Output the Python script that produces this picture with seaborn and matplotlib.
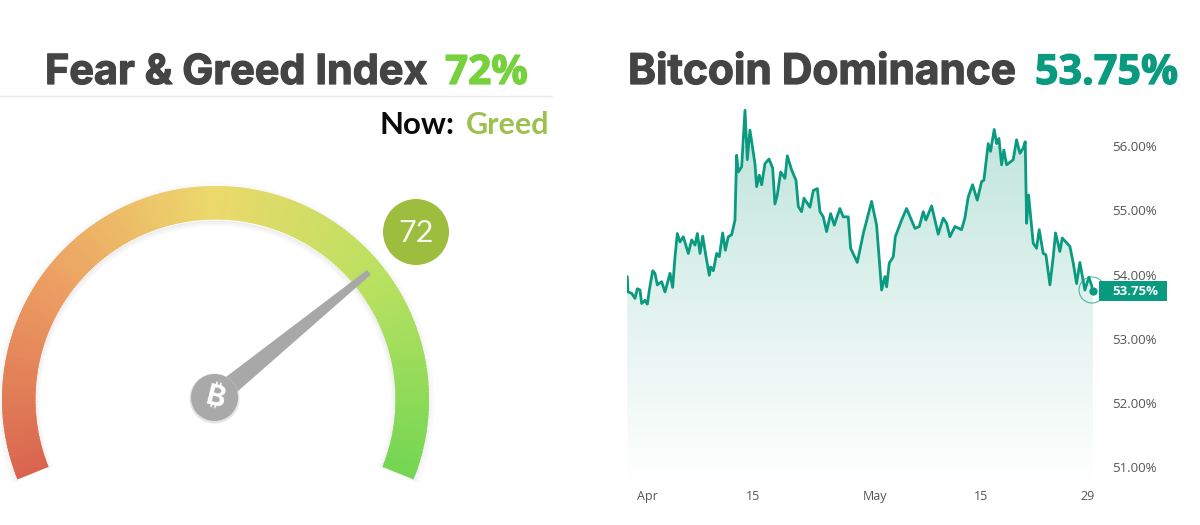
import numpy as np
import matplotlib
matplotlib.use('Agg')
import matplotlib.pyplot as plt
import matplotlib.patheffects as pe
from matplotlib.patches import Wedge, Circle, Polygon, Rectangle
from matplotlib.colors import LinearSegmentedColormap
import seaborn as sns

# days counted from Apr 1
days = [-2.59, -2.50, -2.02, -1.58, -1.27, -0.92, -0.70, -0.26, 0.05, 0.31, 0.75, 1.05, 1.36, 1.93, 2.37,
        3.03, 3.38, 3.69, 3.99, 4.34, 4.78, 5.44, 5.88, 6.32, 6.63, 6.98, 7.33, 7.77, 8.20, 8.38, 8.73,
        9.17, 9.52, 9.96, 10.31, 10.70, 11.14, 11.58, 11.80, 12.02, 12.46, 12.90, 13.20, 13.55, 14.21,
        14.43, 14.78, 15.09, 15.53, 16.06, 16.54, 16.84, 17.15, 17.59, 18.16, 18.47, 19.04, 19.61, 19.92,
        20.35, 20.66, 21.45, 21.89, 22.42, 22.77, 23.20, 23.64, 24.17, 24.65, 25.39, 25.83, 26.49, 26.80,
        27.68, 28.47, 29.56, 30.22, 30.88, 31.32, 31.54, 31.89, 32.42, 32.68, 33.51, 34.17, 35.27, 35.84,
        36.36, 36.71, 37.46, 38.33, 38.99, 39.43, 39.87, 40.53, 41.40, 41.84, 42.28, 42.85, 43.47, 44.04,
        44.34, 44.91, 45.22, 45.70, 46.01, 46.32, 46.67, 46.97, 47.33, 48.20, 48.64, 49.08, 49.52, 49.78,
        49.96, 50.22, 50.83, 51.27, 51.62, 52.15, 52.50, 53.03, 53.47, 53.77, 54.34, 54.65, 55.66, 56.10,
        56.54, 56.97, 57.63, 58.16, 58.73]
dominance = [53.97, 53.73, 53.71, 53.63, 53.78, 53.76, 53.55, 53.60, 53.54, 53.76, 54.06, 54.02, 53.84, 53.89, 53.73,
             54.02, 53.80, 54.28, 54.64, 54.51, 54.59, 54.33, 54.54, 54.46, 54.64, 54.33, 54.60, 54.28, 53.99, 54.12, 54.06,
             54.33, 54.28, 54.65, 54.38, 54.59, 54.62, 54.85, 55.86, 55.60, 55.68, 56.56, 55.79, 56.25, 55.73,
             55.37, 55.55, 55.40, 55.73, 55.80, 55.66, 55.10, 55.24, 55.60, 55.50, 55.85, 55.63, 55.47, 55.06,
             54.98, 55.19, 55.05, 55.31, 55.34, 54.98, 54.90, 54.67, 54.95, 54.77, 55.03, 54.90, 54.90, 54.41,
             54.19, 54.64, 55.14, 54.77, 53.76, 53.97, 53.81, 54.18, 54.28, 54.59, 54.85, 55.03, 54.72, 54.75,
             54.98, 54.85, 55.07, 54.63, 54.88, 54.80, 54.59, 54.75, 54.70, 54.88, 55.21, 55.40, 55.16, 55.45,
             55.47, 56.04, 55.92, 56.26, 56.04, 56.12, 55.71, 55.94, 55.71, 55.79, 56.10, 55.89, 55.97, 56.07,
             54.80, 55.24, 54.49, 54.41, 54.70, 54.33, 54.31, 53.84, 54.28, 54.65, 54.36, 54.57, 54.44, 54.18,
             53.86, 54.19, 53.76, 53.96, 53.75]
x_ticks = [0, 14, 30, 44, 58]
x_labels = ['Apr', '15', 'May', '15', '29']
y_ticks = [51, 52, 53, 54, 55, 56]
y_labels = ['51.00%', '52.00%', '53.00%', '54.00%', '55.00%', '56.00%']
last_label = '53.75%'
fear_greed = 72
gauge_colors = ['#d9644e', '#ec9d62', '#ecd96c', '#b8e160', '#74d653']

TEAL = '#0a9a80'
W, H = 1200, 525

sns.set_theme(style='white')
plt.rcParams['font.family'] = ['Open Sans', 'DejaVu Sans']

fig = plt.figure(figsize=(W / 100, H / 100), dpi=100)

# whole figure in pixels, y going up
bg = fig.add_axes([0, 0, 1, 1])
bg.set_xlim(0, W)
bg.set_ylim(0, H)
bg.axis('off')

# titles, the stroke makes them as heavy as the original
def title(x, txt, size, color, fam):
    t = bg.text(x, H - 84, txt, fontsize=size, fontweight='bold', color=color, family=fam)
    t.set_path_effects([pe.withStroke(linewidth=0.9, foreground=color)])

title(45, 'Fear & Greed Index', 29.8, '#444444', 'Inter')
title(445, '72%', 29.2, '#76d13c', 'Open Sans')
title(628, 'Bitcoin Dominance', 30.5, '#444444', 'Inter')
title(1035, '53.75%', 29.7, TEAL, 'Open Sans')
bg.plot([0, 552], [H - 96, H - 96], color='#e8e8e8', lw=1)
bg.text(380, H - 134, 'Now:', fontsize=22.5, fontweight='bold', color='#0a0a0a', family='Lato')
bg.text(466, H - 134, 'Greed', fontsize=22, fontweight='bold', color='#9dc04f', family='Lato')

# gauge
cx, cy = 215.5, H - 399.5
r_out, r_in = 213.5, 180
start_ang, span = 202, 224
cmap = sns.blend_palette(gauge_colors, as_cmap=True)

def val2ang(v):
    return start_ang - span * v / 100

for k in range(6):
    bg.add_patch(Wedge((cx, cy - 2), r_in + 1, val2ang(100), val2ang(0), width=k + 1,
                       facecolor='#000000', alpha=0.012, lw=0))
    bg.add_patch(Wedge((cx, cy - 2), r_out + k + 1, val2ang(100), val2ang(0), width=k + 2,
                       facecolor='#000000', alpha=0.008, lw=0))
steps = np.linspace(0, 100, 241)
for a, b in zip(steps[:-1], steps[1:]):
    # a bit of overlap so no seams show between the steps
    bg.add_patch(Wedge((cx, cy), r_out, val2ang(b), min(val2ang(a) + 0.6, start_ang), width=r_out - r_in,
                       facecolor=cmap((a + b) / 200), lw=0))

# needle
ang = np.radians(val2ang(fear_greed) - 1.5)
ux, uy = np.cos(ang), np.sin(ang)
nx, ny = -uy, ux
tip = 198
bg.add_patch(Polygon([(cx + nx * 10, cy + 2 + ny * 10), (cx + ux * tip + nx * 3, cy + 2 + uy * tip + ny * 3),
                      (cx + ux * tip - nx * 3, cy + 2 + uy * tip - ny * 3), (cx - nx * 10, cy + 2 - ny * 10)],
                     facecolor='#a8a8a8', lw=0))
bg.add_patch(Circle((cx - 1, cy + 1), 25, facecolor='#c8c8c8', lw=0, alpha=0.5))
bg.add_patch(Circle((cx - 1, cy + 2), 23.5, facecolor='#a9a9a9', lw=0))
bg.text(cx - 1, cy + 1, '\u20bf', fontsize=21, fontweight='bold', color='white', rotation=-14,
        ha='center', va='center', family=['Inter', 'Noto Sans', 'Roboto', 'Open Sans', 'Lato', 'Liberation Sans', 'DejaVu Sans'])

# value bubble
bg.add_patch(Circle((416, H - 232), 33, facecolor='#9dbd3f', lw=0))
bg.text(416, H - 233, str(fear_greed), fontsize=22, color='#f6f8ee', ha='center', va='center', family='Lato')

# dominance chart
left, right, top, bottom = 627, 1093, 100, 482
ax = fig.add_axes([left / W, 1 - bottom / H, (right - left) / W, (bottom - top) / H])
ax.patch.set_alpha(0)
sns.lineplot(x=days, y=dominance, ax=ax, color=TEAL, lw=2.0, sort=False, errorbar=None, zorder=3)
x0, x1 = -2.63, 58.7
y0, y1 = 50.77, 56.72
fill = ax.fill_between(days, dominance, y0, facecolor='none', lw=0)
grad_cmap = LinearSegmentedColormap.from_list('fade', ['#ffffff', '#e3f3ef', '#c4e6df'])
grad = np.linspace(0, 1, 256).reshape(-1, 1)
im = ax.imshow(grad, extent=[x0, x1, y0, 56.0], origin='lower', aspect='auto', cmap=grad_cmap, zorder=1)
im.set_clip_path(fill.get_paths()[0], transform=ax.transData)
ax.set_xlim(x0, x1)
ax.set_ylim(y0, y1)
ax.set_xticks(x_ticks)
ax.set_xticklabels(x_labels, fontsize=9, color='#555555')
ax.yaxis.tick_right()
ax.set_yticks(y_ticks)
ax.set_yticklabels(y_labels, fontsize=9.5, color='#555555')
ax.tick_params(axis='x', length=0, pad=6)
ax.tick_params(axis='y', length=0, pad=14)
sns.despine(ax=ax, left=True, bottom=True, right=True, top=True)
ax.grid(False)

# last value marker and badge
ax.plot(days[-1], dominance[-1], 'o', ms=5, color=TEAL, clip_on=False, zorder=4)
bg2 = fig.add_axes([0, 0, 1, 1], zorder=5)
bg2.set_xlim(0, W)
bg2.set_ylim(0, H)
bg2.axis('off')
bg2.add_patch(Circle((1092, H - 290), 13, facecolor='none', edgecolor=TEAL, lw=0.8, alpha=0.7))
bg2.add_patch(Rectangle((1099, H - 301), 68, 20, facecolor=TEAL, lw=0))
bg2.text(1112, H - 291.5, last_label, fontsize=9.5, fontweight='bold', color='white', va='center')

fig.savefig('out.png', dpi=100)
